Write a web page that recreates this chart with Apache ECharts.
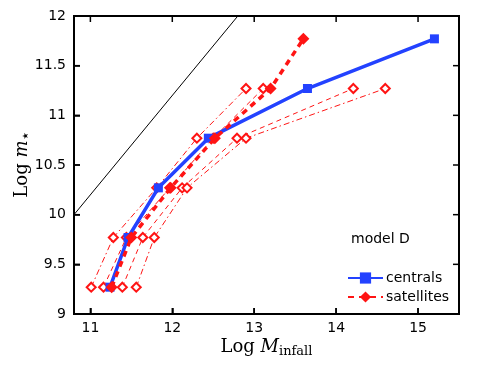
<!DOCTYPE html>
<html>
<head>
<meta charset="utf-8">
<script src="https://cdn.jsdelivr.net/npm/echarts@6/dist/echarts.min.js"></script>
<style>
  html, body { margin: 0; padding: 0; background: #fff; }
  #chart { width: 491px; height: 369px; }
</style>
</head>
<body>
<div id="chart"></div>
<script>
// stellar mass levels shared by all series
var logMstar = [9.27, 9.77, 10.27, 10.77, 11.27, 11.77];

// centrals / satellites (log M_infall)
var centralsX = [11.24, 11.46, 11.83, 12.44, 13.65, 15.2];
var satellitesX = [11.26, 11.5, 11.98, 12.52, 13.2, 13.6];

// thin scatter curves (5 points each, up to 11.27)
var thinA = [11.01, 11.28, 11.81, 12.30, 12.90]; // dash-dot
var thinB = [11.16, 11.44, 11.97, 12.50, 13.11]; // dashed
var thinC = [11.39, 11.64, 12.12, 12.79, 14.21]; // dashed
var thinD = [11.56, 11.78, 12.18, 12.90, 14.60]; // dash-dot

// one-to-one style reference line
var refLine = [[10.8, 10.0], [12.8, 12.0]];

var xMin = 10.8, xMax = 15.5;
var yMin = 9, yMax = 12;
var xTicks = [11, 12, 13, 14, 15];
var yTicks = [9, 9.5, 10, 10.5, 11, 11.5, 12];

function pairs(xs) {
    var out = [];
    for (var i = 0; i < xs.length; i++) {
        out.push([xs[i], logMstar[i]]);
    }
    return out;
}

var red = '#ff1414';
var blue = '#2342ff';
var dashDot = [6, 3, 1.5, 3];
var font = 'DejaVu Sans';
var tickLen = 6;

function thinSeries(name, xs, dash) {
    return {
        name: name,
        type: 'line',
        data: pairs(xs),
        symbol: 'emptyDiamond',
        symbolSize: 9,
        lineStyle: { color: red, width: 1, type: dash },
        itemStyle: { color: red, borderWidth: 1 },
        z: 2,
        silent: true
    };
}

// inside ticks on the four sides, one custom series per side
function tickSeries(name, vals, onX, fixed, dx, dy) {
    return {
        name: name,
        type: 'custom',
        data: vals.map(function (v) { return onX ? [v, fixed] : [fixed, v]; }),
        clip: false,
        silent: true,
        z: 20,
        renderItem: function (params, api) {
            var p = api.coord([api.value(0), api.value(1)]);
            return {
                type: 'line',
                shape: { x1: p[0], y1: p[1], x2: p[0] + dx * tickLen, y2: p[1] + dy * tickLen },
                style: { stroke: '#000', lineWidth: 1.5 }
            };
        }
    };
}

var chart = echarts.init(document.getElementById('chart'));

var option = {
    animation: false,
    grid: { left: 74, top: 16, right: 32, bottom: 55, show: true, borderColor: '#000', borderWidth: 2 },
    title: {
        text: 'model D',
        left: 346,
        top: 227,
        textStyle: { fontFamily: font, fontSize: 14, fontWeight: 'normal', color: '#000' }
    },
    legend: {
        data: ['centrals', 'satellites'],
        orient: 'vertical',
        left: 342,
        top: 266,
        itemWidth: 35,
        itemHeight: 14,
        itemGap: 5,
        textStyle: { fontFamily: font, fontSize: 14, color: '#000', padding: [0, 0, 0, -2] }
    },
    xAxis: {
        type: 'value',
        min: xMin,
        max: xMax,
        axisLine: { show: false },
        axisTick: { show: true, inside: true, length: tickLen, customValues: xTicks, lineStyle: { color: '#000', width: 1.5 } },
        splitLine: { show: false },
        axisLabel: {
            customValues: xTicks,
            color: '#000',
            fontFamily: font,
            fontSize: 14,
            margin: 7
        },
        name: '{n|Log }{i|M}{s|infall}',
        nameLocation: 'middle',
        nameGap: 23,
        nameMoveOverlap: false,
        nameTextStyle: {
            rich: {
                n: { fontFamily: 'DejaVu Serif', fontSize: 18, color: '#000' },
                i: { fontFamily: 'DejaVu Serif', fontStyle: 'italic', fontSize: 18, color: '#000' },
                s: { fontFamily: 'DejaVu Serif', fontSize: 13, color: '#000', padding: [8, 0, 0, 0] }
            }
        }
    },
    yAxis: {
        type: 'value',
        min: yMin,
        max: yMax,
        interval: 0.5,
        axisLine: { show: false },
        axisTick: { show: true, inside: true, length: tickLen, lineStyle: { color: '#000', width: 1.5 } },
        splitLine: { show: false },
        axisLabel: {
            color: '#000',
            fontFamily: font,
            fontSize: 14,
            margin: 8
        },
        name: '{n|Log }{i|m}{s|★}',
        nameLocation: 'middle',
        nameRotate: 90,
        nameGap: 43,
        nameMoveOverlap: false,
        nameTextStyle: {
            rich: {
                n: { fontFamily: 'DejaVu Serif', fontSize: 18, color: '#000' },
                i: { fontFamily: 'DejaVu Serif', fontStyle: 'italic', fontSize: 18, color: '#000' },
                s: { fontFamily: 'DejaVu Sans', fontSize: 8, color: '#000', padding: [8, 0, 0, 1] }
            }
        }
    },
    series: [
        {
            name: 'ref',
            type: 'line',
            data: refLine,
            symbol: 'none',
            lineStyle: { color: '#000', width: 1 },
            z: 1,
            silent: true
        },
        thinSeries('thinA', thinA, dashDot),
        thinSeries('thinB', thinB, [5, 4]),
        thinSeries('thinC', thinC, [5, 4]),
        thinSeries('thinD', thinD, dashDot),
        {
            name: 'centrals',
            type: 'line',
            data: pairs(centralsX),
            symbol: 'rect',
            symbolSize: 9,
            lineStyle: { color: blue, width: 3.5 },
            itemStyle: { color: blue },
            z: 3
        },
        {
            name: 'satellites',
            type: 'line',
            data: pairs(satellitesX),
            symbol: 'diamond',
            symbolSize: 12,
            lineStyle: { color: red, width: 3.5, type: [6, 5] },
            itemStyle: { color: red },
            z: 4
        },
        tickSeries('tickBottom', xTicks, true, yMin, 0, -1),
        tickSeries('tickTop', xTicks, true, yMax, 0, 1),
        tickSeries('tickLeft', yTicks, false, xMin, 1, 0),
        tickSeries('tickRight', yTicks, false, xMax, -1, 0)
    ]
};

chart.setOption(option);
</script>
</body>
</html>
